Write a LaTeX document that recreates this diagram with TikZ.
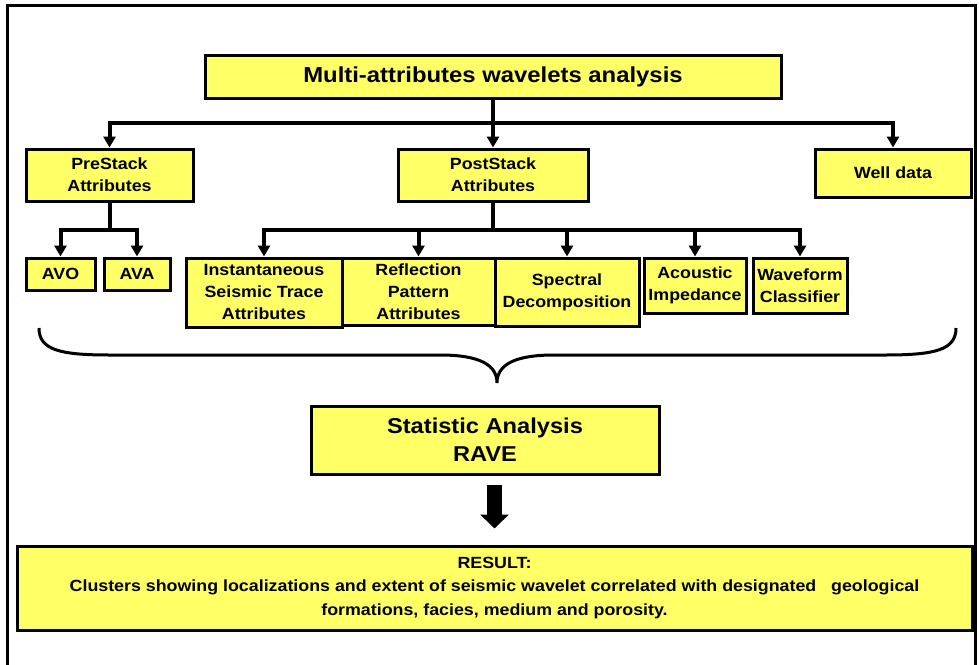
\documentclass[tikz,border=0pt]{standalone}
\usepackage{fontspec}
\setmainfont{Liberation Sans}[FakeStretch=1.1]
\usetikzlibrary{arrows.meta, calc, positioning}
\definecolor{boxyellow}{RGB}{255,255,102}

\begin{document}
\begin{tikzpicture}[x=1pt, y=-1pt,
		box/.style={draw, line width=3pt, fill=boxyellow, align=center, inner sep=0pt, font=\bfseries\fontsize{16.2}{22}\selectfont},
		link/.style={line width=4pt},
		conn/.style={line width=4pt, -{Triangle[width=12pt, length=11pt]}}]
		\useasboundingbox (0,0) rectangle (979,664);
		\draw [line width=3pt] (7,5) rectangle (975,690);
		\node [box, minimum width=576pt, minimum height=43pt, font=\bfseries\fontsize{21.7}{26}\selectfont] (title) at (493,76.5) {Multi-attributes wavelets analysis};
		\node [box, minimum width=167pt, minimum height=52pt] (pre) at (109.5,175) {PreStack\\Attributes};
		\node [box, minimum width=190pt, minimum height=52pt] (post) at (493,175) {PostStack\\Attributes};
		\node [box, minimum width=156pt, minimum height=48pt] (well) at (893,173) {Well data};
		\node [box, minimum width=69pt, minimum height=32pt] (avo) at (60.5,274) {AVO};
		\node [box, minimum width=66pt, minimum height=32pt] (ava) at (137,274) {AVA};
		\node [box, minimum width=156pt, minimum height=69pt] (inst) at (264,292.5) {Instantaneous\\Seismic Trace\\Attributes};
		\node [box, minimum width=153pt, minimum height=67pt] (refl) at (418.5,291.5) {Reflection\\Pattern\\Attributes};
		\node [box, minimum width=144pt, minimum height=68pt] (spec) at (567,292) {Spectral\\Decomposition};
		\node [box, minimum width=102pt, minimum height=55pt] (acou) at (695,285.5) {Acoustic\\Impedance};
		\node [box, minimum width=94pt, minimum height=55pt] (wave) at (800,285.5) {Waveform\\Classifier};
		\node [box, minimum width=348pt, minimum height=68pt, font=\bfseries\fontsize{21.5}{28}\selectfont] (stat) at (485,440) {Statistic Analysis\\RAVE};
		\node [box, minimum width=955pt, minimum height=84pt, font=\bfseries\fontsize{16.2}{23.5}\selectfont] (res) at (494.5,588) {RESULT:\\Clusters showing localizations and extent of seismic wavelet correlated with designated\ \ \ geological\\formations, facies, medium and porosity.};
		\coordinate (split) at (493,123);
		\draw [link] (title.south) -- (split);
		\draw [conn] (split) -| (pre.north);
		\draw [conn] (split) -- (post.north);
		\draw [conn] (split) -| (well.north);
		\draw [link] (pre.south) -- ++(0,27) coordinate (prejoin);
		\draw [conn] (prejoin) -| (avo.north);
		\draw [conn] (prejoin) -| (ava.north);
		\draw [link] (post.south) -- ++(0,27) coordinate (postjoin);
		\foreach \n in {inst, refl, spec, acou, wave}{
			\draw [conn] (postjoin) -| (\n.north);
		}
		\draw [line width=3pt] (39,328) .. controls (39,350) and (60,355) .. (110,355) -- (440,355)
			.. controls (480,355) and (497,365) .. (497,383) coordinate (tip)
			.. controls (497,365) and (514,355) .. (554,355) -- (885,355)
			.. controls (935,355) and (956,350) .. (956,328);
		\draw [line width=15pt, -{Triangle[width=28pt, length=14pt]}, shorten <=9pt, shorten >=16pt] (stat.south -| res.north) -- (res.north);
	\end{tikzpicture}
\end{document}
